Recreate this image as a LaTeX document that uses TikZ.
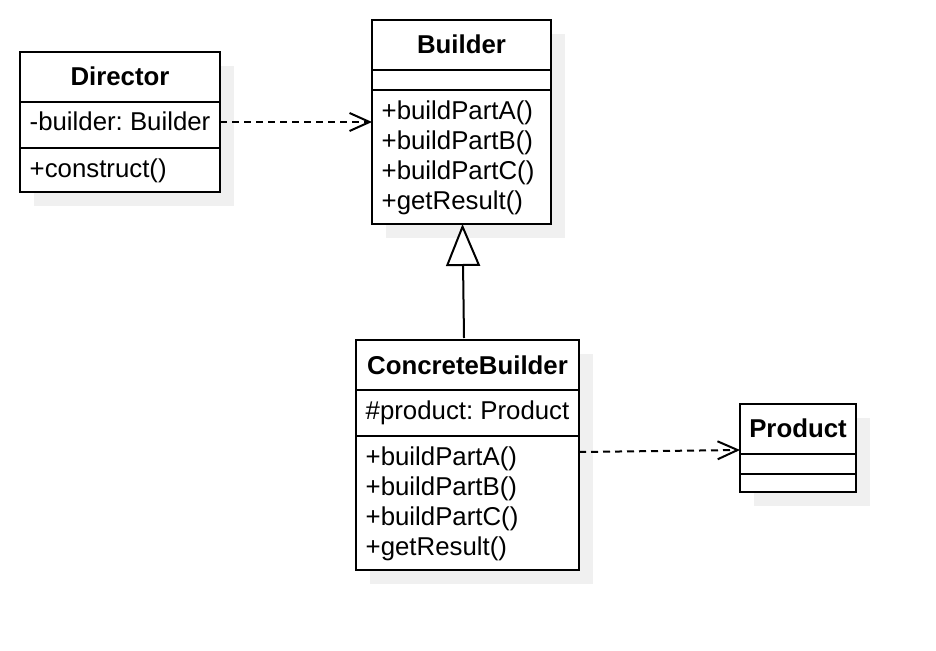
\documentclass[tikz,border=0pt]{standalone}
\usepackage{fontspec}
\setmainfont{Liberation Sans}
\usetikzlibrary{arrows.meta}
\definecolor{shd}{RGB}{240,240,240}
\frenchspacing
\begin{document}
\begin{tikzpicture}[x=1pt,y=-1pt,
  box/.style={draw, line width=2pt, fill=white, inner sep=0pt, outer sep=0pt, anchor=north west},
  sec/.style={line width=2pt},
  shadowbox/.style={fill=shd},
  title/.style={font=\fontsize{25.8}{30}\selectfont\bfseries, inner sep=0pt, text height=18pt, text depth=0pt, anchor=center},
  member/.style={font=\fontsize{25.8}{30}\selectfont, inner sep=0pt, text height=18pt, text depth=0pt, anchor=west},
  dep/.style={line width=2pt, dash pattern=on 7pt off 5pt, -{Straight Barb[length=20pt,width=18pt]}},
  inherit/.style={line width=2pt, -{Triangle[length=42pt,width=34pt,fill=white]}}
]
\useasboundingbox[fill=white] (0,0) rectangle (936,650);

% shadows
\fill[shadowbox] (34,66) rectangle (234,206);
\fill[shadowbox] (386,34) rectangle (565,238);
\fill[shadowbox] (370,354) rectangle (593,584);
\fill[shadowbox] (754,418) rectangle (870,506);

% Director
\node[box, minimum width=200pt, minimum height=140pt] (dir) at (20,52) {};
\draw[sec] (dir.west |- 0,102) -- (dir.east |- 0,102);
\draw[sec] (dir.west |- 0,148) -- (dir.east |- 0,148);
\node[title] (dirt) at (120,77) {Director};
\node[member] (dira) at (29.5,122) {-builder: Builder};
\node[member] (dirm) at (29.5,168) {+construct()};

% Builder
\node[box, minimum width=179pt, minimum height=204pt] (bu) at (372,20) {};
\draw[sec] (bu.west |- 0,70) -- (bu.east |- 0,70);
\draw[sec] (bu.west |- 0,90) -- (bu.east |- 0,90);
\node[title] (but) at (461.5,45) {Builder};
\node[member] (bum1) at (381.5,110.5) {+buildPartA()};
\node[member] (bum2) at (381.5,140.5) {+buildPartB()};
\node[member] (bum3) at (381.5,170.5) {+buildPartC()};
\node[member] (bum4) at (381.5,200.5) {+getResult()};

% ConcreteBuilder
\node[box, minimum width=223pt, minimum height=230pt] (cb) at (356,340) {};
\draw[sec] (cb.west |- 0,390) -- (cb.east |- 0,390);
\draw[sec] (cb.west |- 0,436) -- (cb.east |- 0,436);
\node[title] (cbt) at (467.5,365) {ConcreteBuilder};
\node[member] (cba) at (365.5,410.5) {\#product: Product};
\node[member] (cbm1) at (365.5,456.5) {+buildPartA()};
\node[member] (cbm2) at (365.5,486.5) {+buildPartB()};
\node[member] (cbm3) at (365.5,516.5) {+buildPartC()};
\node[member] (cbm4) at (365.5,546.5) {+getResult()};

% Product
\node[box, minimum width=116pt, minimum height=88pt] (pr) at (740,404) {};
\draw[sec] (pr.west |- 0,454) -- (pr.east |- 0,454);
\draw[sec] (pr.west |- 0,474) -- (pr.east |- 0,474);
\node[title] (prt) at (798,428.5) {Product};

% connectors
\draw[dep] (dir.east) -- (bu.west);
\draw[dep] ([yshift=3pt]cb.east) -- ([yshift=-2pt]pr.west);
\draw[inherit] ([xshift=-3.5pt,yshift=2pt]cb.north) -- ([xshift=1pt]bu.south);
\end{tikzpicture}
\end{document}
